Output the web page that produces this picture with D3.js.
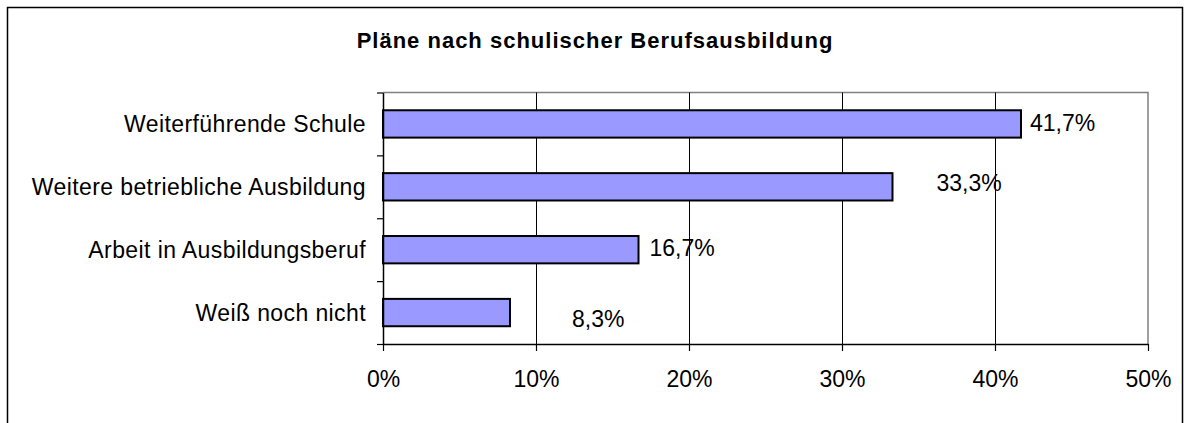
<!DOCTYPE html>
<html>
<head>
<meta charset="utf-8">
<script src="https://cdn.jsdelivr.net/npm/d3@7"></script>
<style>
  body { margin: 0; background: #fff; }
  text { font-family: "Liberation Sans", Arial, sans-serif; fill: #000; }
</style>
</head>
<body>
<script>
const title = "Pläne nach schulischer Berufsausbildung";
const categories = [
  "Weiterführende Schule",
  "Weitere betriebliche Ausbildung",
  "Arbeit in Ausbildungsberuf",
  "Weiß noch nicht"
];
const shares = [0.417, 0.333, 0.167, 0.083];
const xTicks = [0, 0.1, 0.2, 0.3, 0.4, 0.5];

// Excel hat die Beschriftungen etwas verschoben, hier nachgebaut
const labelNudge = [[9, -1], [44, -4], [11, -2], [62, 6]];

const width = 1190;
const height = 423;
const plot = { left: 383, right: 1148, top: 92.5, bottom: 344 };

const svg = d3.select("body")
  .append("svg")
  .attr("width", width)
  .attr("height", height);

// Rahmen
svg.append("rect")
  .attr("x", 7.5).attr("y", 7.5)
  .attr("width", 1175).attr("height", 430)
  .attr("fill", "none")
  .attr("stroke", "#000")
  .attr("stroke-width", 1.5);

svg.append("text")
  .attr("x", 595).attr("y", 48)
  .attr("text-anchor", "middle")
  .attr("font-size", 22)
  .attr("font-weight", "bold")
  .attr("letter-spacing", 1)
  .text(title);

const x = d3.scaleLinear().domain([0, 0.5]).range([plot.left, plot.right]);
const y = d3.scaleBand().domain(categories)
  .range([plot.top, plot.bottom])
  .paddingInner(0.565)
  .paddingOuter(0.2825);
const yEdges = d3.scaleLinear().domain([0, categories.length]).range([plot.top, plot.bottom]);

// Rand oben/rechts
svg.append("path")
  .attr("d", `M${plot.left},${plot.top}H${plot.right}V${plot.bottom}`)
  .attr("fill", "none")
  .attr("stroke", "#808080")
  .attr("stroke-width", 1.5);

// Gitterlinien
svg.selectAll("line.grid")
  .data(xTicks.slice(1, -1))
  .enter()
  .append("line")
  .attr("class", "grid")
  .attr("x1", d => Math.round(x(d)) + 0.5)
  .attr("x2", d => Math.round(x(d)) + 0.5)
  .attr("y1", plot.top)
  .attr("y2", plot.bottom)
  .attr("stroke", "#000")
  .attr("stroke-width", 1);

// Balken
svg.selectAll("rect.bar")
  .data(shares)
  .enter()
  .append("rect")
  .attr("class", "bar")
  .attr("x", x(0))
  .attr("y", (d, i) => y(categories[i]))
  .attr("width", d => x(d) - x(0))
  .attr("height", y.bandwidth())
  .attr("fill", "#9999FF")
  .attr("stroke", "#000")
  .attr("stroke-width", 2);

// Werte
const fmt = d => d3.format(".1f")(d * 100).replace(".", ",") + "%";
svg.selectAll("text.value")
  .data(shares)
  .enter()
  .append("text")
  .attr("class", "value")
  .attr("x", (d, i) => x(d) + labelNudge[i][0])
  .attr("y", (d, i) => y(categories[i]) + y.bandwidth() / 2 + labelNudge[i][1])
  .attr("dy", "0.35em")
  .attr("font-size", 23)
  .text(fmt);

// y-Achse
const yAxis = svg.append("g")
  .attr("transform", `translate(${plot.left},0)`)
  .call(d3.axisLeft(yEdges).ticks(categories.length).tickFormat("").tickSize(6).tickSizeOuter(0));
yAxis.select(".domain").attr("stroke", "#000").attr("stroke-width", 1.5);
yAxis.selectAll(".tick line").attr("stroke-width", 1.2);

svg.selectAll("text.cat")
  .data(categories)
  .enter()
  .append("text")
  .attr("class", "cat")
  .attr("x", 366)
  .attr("y", d => y(d) + y.bandwidth() / 2)
  .attr("dy", "0.35em")
  .attr("text-anchor", "end")
  .attr("font-size", 23)
  .attr("letter-spacing", 0.4)
  .text(d => d);

// x-Achse
const xAxis = svg.append("g")
  .attr("transform", `translate(0,${plot.bottom})`)
  .call(d3.axisBottom(x).tickValues(xTicks).tickFormat(d3.format(".0%")).tickSize(7).tickSizeOuter(0).tickPadding(20));
xAxis.select(".domain").attr("stroke", "#000").attr("stroke-width", 1.5);
xAxis.selectAll(".tick line").attr("stroke-width", 1.2);
xAxis.selectAll(".tick text")
  .attr("font-size", 23)
  .attr("font-family", "'Liberation Sans', Arial, sans-serif")
  .attr("fill", "#000");
</script>
</body>
</html>
